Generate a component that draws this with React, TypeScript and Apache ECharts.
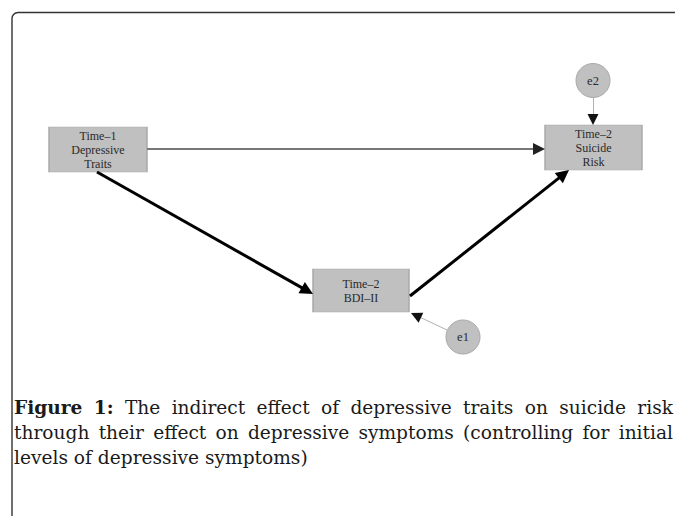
import React, { useEffect, useRef } from "react";
import * as echarts from "echarts";

// ---- diagram data ----
const nodeLabels = ["Time–1\nDepressive\nTraits", "Time–2\nBDI–II", "Time–2\nSuicide\nRisk"];
const nodeCenters = [
  [98, 149.5],
  [361, 290.5],
  [593.5, 147.5],
];
const nodeSizes = [
  [98, 45],
  [96, 43],
  [97, 45],
];
const errorLabels = ["e1", "e2"];
const errorCenters = [
  [463, 337],
  [593, 80.5],
];
const pathStarts = [
  [147, 149],
  [97, 172],
  [410, 296],
  [593, 98],
  [447, 330],
];
const pathEnds = [
  [545, 149],
  [313, 294],
  [569, 170],
  [593, 125],
  [411, 313],
];
const pathKinds = ["gray", "bold", "bold", "thin", "thin"];

// ---- caption ----
const captionLines = [
  [["Figure", true], ["1:", true], ["The", false], ["indirect", false], ["effect", false], ["of", false], ["depressive", false], ["traits", false], ["on", false], ["suicide", false], ["risk", false]],
  [["through", false], ["their", false], ["effect", false], ["on", false], ["depressive", false], ["symptoms", false], ["(controlling", false], ["for", false], ["initial", false]],
  [["levels", false], ["of", false], ["depressive", false], ["symptoms)", false]],
];
const captionJustified = [true, true, false];

const W = 675;
const H = 516;
const CAP_FONT = 18.6;
const CAP_FAMILY = '"DejaVu Serif"';

function shorten(s: number[], e: number[], back: number) {
  const dx = e[0] - s[0];
  const dy = e[1] - s[1];
  const L = Math.hypot(dx, dy);
  return [e[0] - (dx / L) * back, e[1] - (dy / L) * back];
}

export default function App() {
  const ref = useRef<HTMLDivElement>(null);
  useEffect(() => {
    if (!ref.current) return;
    const chart = echarts.init(ref.current, undefined, { renderer: "svg" });

    const canvas = document.createElement("canvas");
    const ctx = canvas.getContext("2d")!;
    const measure = (t: string, bold: boolean) => {
      ctx.font = `${bold ? "bold" : "normal"} ${CAP_FONT}px ${CAP_FAMILY}`;
      return ctx.measureText(t).width;
    };
    ctx.font = `normal ${CAP_FONT}px ${CAP_FAMILY}`;
    const spaceW = ctx.measureText(" ").width;

    const left = 14;
    const right = 673;
    const baselines = [417, 442, 467];
    const captionTexts: any[] = [];
    captionLines.forEach((words, li) => {
      const widths = words.map((w) => measure(w[0] as string, w[1] as boolean));
      const total = widths.reduce((a, b) => a + b, 0);
      const gap = captionJustified[li] ? (right - left - total) / (words.length - 1) : spaceW;
      let x = left;
      words.forEach((w, wi) => {
        captionTexts.push({
          type: "text",
          x,
          y: baselines[li],
          silent: true,
          style: {
            text: w[0] as string,
            font: `${w[1] ? "bold" : "normal"} ${CAP_FONT}px ${CAP_FAMILY}`,
            fill: "#1a1a1a",
            align: "left",
            verticalAlign: "bottom",
          },
        });
        x += widths[wi] + gap;
      });
    });

    const styles: Record<string, any> = {
      gray: { color: "#777777", width: 2.2, size: [9, 12], head: "#222222" },
      bold: { color: "#000000", width: 3, size: [10, 13], head: "#000000" },
      thin: { color: "#b0b0b0", width: 1, size: [8, 11], head: "#111111" },
    };

    const shaftData = pathStarts.map((s, i) => {
      const st = styles[pathKinds[i]];
      return {
        coords: [s, shorten(s, pathEnds[i], st.size[1] - 2)],
        lineStyle: { color: st.color, width: st.width, opacity: 1 },
      };
    });
    const headData = pathStarts.map((s, i) => {
      const st = styles[pathKinds[i]];
      return {
        coords: [s, shorten(s, pathEnds[i], st.size[1] / 2)],
        symbolSize: st.size,
        lineStyle: { color: st.head, width: 0, opacity: 1 },
      };
    });

    chart.setOption({
      animation: false,
      backgroundColor: "#ffffff",
      grid: { left: 0, right: 0, top: 0, bottom: 0 },
      xAxis: { type: "value", min: 0, max: W, show: false },
      yAxis: { type: "value", min: 0, max: H, inverse: true, show: false },
      series: [
        {
          type: "lines",
          coordinateSystem: "cartesian2d",
          z: 3,
          symbol: ["none", "none"],
          lineStyle: { opacity: 1 },
          data: shaftData,
        },
        {
          type: "lines",
          coordinateSystem: "cartesian2d",
          z: 4,
          symbol: ["none", "triangle"],
          lineStyle: { opacity: 1, width: 0 },
          data: headData,
        },
        {
          type: "scatter",
          z: 2,
          symbol: "rect",
          itemStyle: { color: "#c0c0c0", borderColor: "#a9a9a9", borderWidth: 1, opacity: 1 },
          label: {
            show: true,
            position: "inside",
            formatter: (p: any) => p.name,
            color: "#2a2a2a",
            fontFamily: "Liberation Serif",
            fontSize: 12,
            lineHeight: 14,
          },
          data: nodeLabels.map((n, i) => ({
            name: n,
            value: nodeCenters[i],
            symbolSize: nodeSizes[i],
          })),
        },
        {
          type: "scatter",
          z: 2,
          symbol: "circle",
          symbolSize: 34,
          itemStyle: { color: "#c0c0c0", borderColor: "#a9a9a9", borderWidth: 1, opacity: 1 },
          label: {
            show: true,
            position: "inside",
            formatter: (p: any) => p.name,
            color: "#2a2a2a",
            fontFamily: "Liberation Serif",
            fontSize: 12.5,
          },
          data: errorLabels.map((n, i) => ({ name: n, value: errorCenters[i] })),
        },
      ],
      graphic: [
        {
          type: "rect",
          silent: true,
          shape: { x: 12, y: 12.5, width: 700, height: 600, r: 6 },
          style: { fill: "none", stroke: "#333333", lineWidth: 1.4 },
        },
        ...captionTexts,
      ],
    });
    return () => chart.dispose();
  }, []);
  return (
    <div
      ref={ref}
      style={{ position: "fixed", left: 0, top: 0, width: W, height: H, background: "#fff" }}
    />
  );
}
